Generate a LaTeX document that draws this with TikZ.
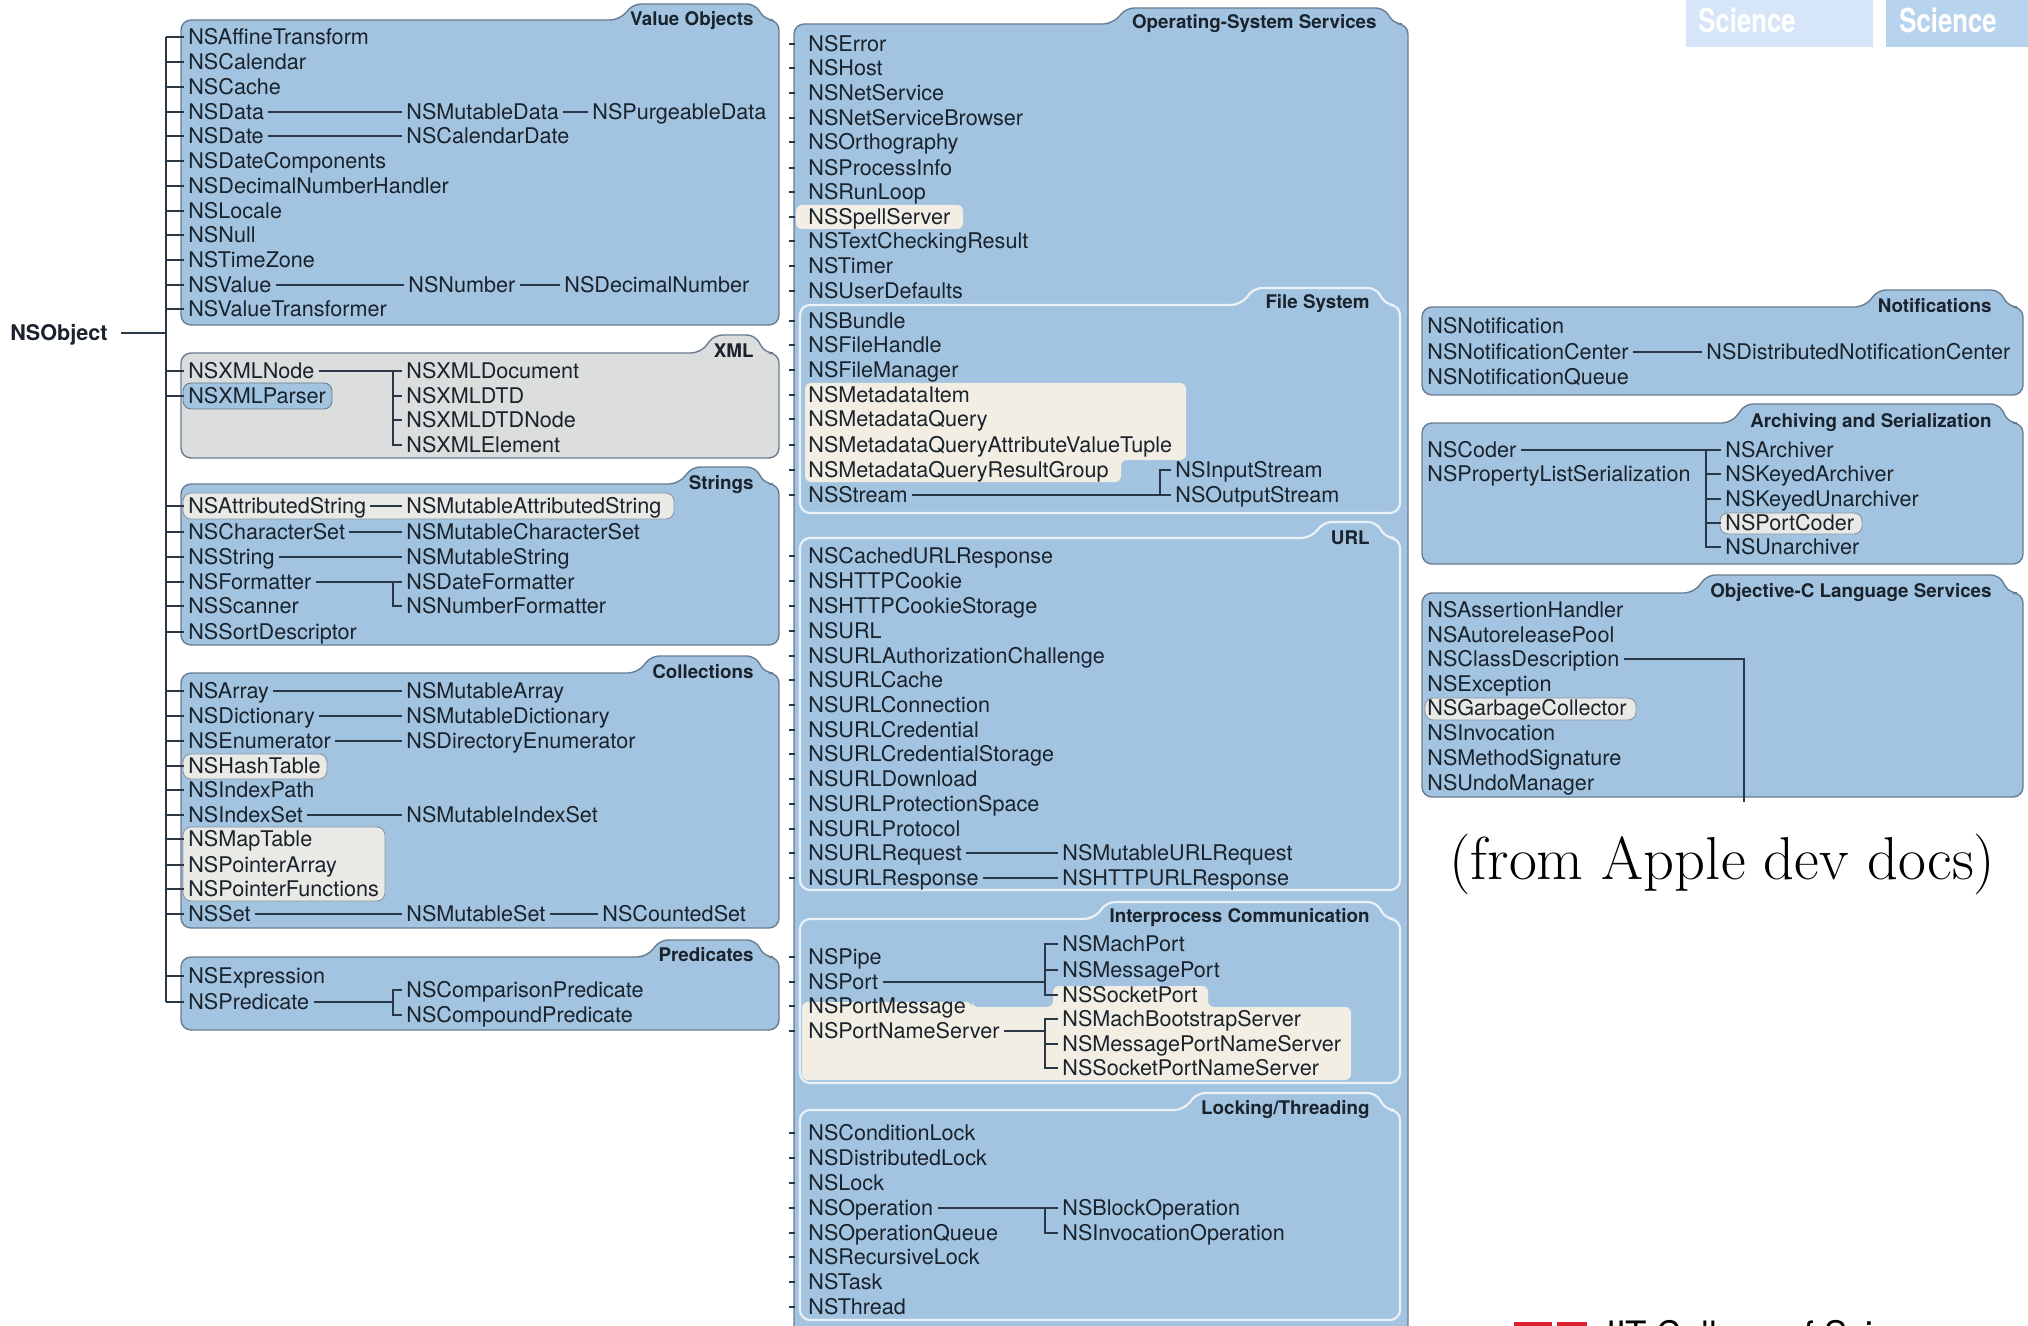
\documentclass[tikz,border=0pt]{standalone}
\usepackage{fontspec}
\usepackage{graphicx}
\newfontfamily\hv{TeX Gyre Heros}
\usetikzlibrary{calc}
\definecolor{boxblue}{RGB}{162,196,224}
\definecolor{edgec}{RGB}{105,124,144}
\definecolor{xmlgray}{RGB}{220,222,222}
\definecolor{cream}{RGB}{242,238,227}
\definecolor{hlgray}{RGB}{233,233,229}
\definecolor{txtc}{RGB}{26,34,44}
\definecolor{lnc}{RGB}{42,55,70}
\definecolor{subedge}{RGB}{234,241,247}
\definecolor{sciA}{RGB}{214,230,248}
\definecolor{sciB}{RGB}{184,211,238}
\definecolor{iitred}{RGB}{222,30,50}
\newcommand{\folder}[7]{\path[#1] ({(#2+#4)/2},#5) [rounded corners=5pt] -- (#2,#5) -- (#2,#3) -- (#6,#3) [rounded corners=4pt] -- ({#6+13},#7) -- ({#4-24},#7) -- ({#4-14},#3) [rounded corners=5pt] -- (#4,#3) -- (#4,#5) -- cycle;}
\tikzset{
  cls/.style={anchor=west, xshift=-2pt, inner xsep=2pt, inner ysep=0pt, text height=7.75pt, text depth=0pt, font=\hv\fontsize{10.8}{12}\selectfont, text=txtc},
  lbl/.style={anchor=east, inner sep=0pt, text height=6.8pt, text depth=0pt, font=\hv\bfseries\fontsize{9.4}{11}\selectfont, text=txtc},
  ln/.style={draw=lnc, line width=0.7pt},
  outerbox/.style={fill=boxblue, draw=edgec, line width=0.7pt},
  graybox/.style={fill=xmlgray, draw=edgec, line width=0.7pt},
  subbox/.style={fill=boxblue, draw=subedge, line width=1.1pt},
  hlg/.style={fill=hlgray, draw=edgec!80, line width=0.45pt, rounded corners=4pt},
  hlb/.style={fill=boxblue, draw=edgec, line width=0.45pt, rounded corners=4pt},
  hlc/.style={fill=cream, rounded corners=3pt},
  sci/.style={anchor=west, inner sep=0pt, text=white, text height=11.9pt, text depth=0pt, font=\hv\bfseries\fontsize{16.5}{18}\selectfont}
}
\begin{document}
\begin{tikzpicture}[x=0.5pt,y=-0.5pt]
\useasboundingbox (0,0) rectangle (2028,1326);
% header tabs
\fill[sciA] (1686,0) rectangle (1873,47);
\fill[sciB] (1886,0) rectangle (2028,47);
\node[sci] (sciA) at (1698,21) {\scalebox{0.78}[1]{Science}};
\node[sci] (sciB) at (1899,21) {\scalebox{0.78}[1]{Science}};
% ---------- boxes ----------
\folder{outerbox}{181}{20}{779}{325}{620}{4}
\folder{graybox}{181}{353}{779}{458}{701}{335}
\folder{outerbox}{181}{484}{779}{645}{679}{467}
\folder{outerbox}{181}{673}{779}{928}{638}{656}
\folder{outerbox}{181}{957}{779}{1030}{647}{940}
\folder{outerbox}{794}{24}{1408}{1345}{1113}{8}
\folder{subbox}{800}{305}{1400}{513}{1241}{288}
\folder{subbox}{800}{538}{1400}{890}{1311}{522}
\folder{subbox}{800}{919}{1400}{1083}{1094}{902}
\folder{subbox}{800}{1110}{1400}{1320}{1184}{1093}
\folder{outerbox}{1422}{307}{2023}{395}{1865}{290}
\folder{outerbox}{1422}{423}{2023}{564}{1732}{404}
\folder{outerbox}{1422}{593}{2023}{797}{1694}{575}
% labels
\node[lbl] (lvo) at (754,19) {Value Objects};
\node[lbl] (lxml) at (754,351) {XML};
\node[lbl] (lstr) at (754,483) {Strings};
\node[lbl] (lcol) at (754,672) {Collections};
\node[lbl] (lpre) at (754,955) {Predicates};
\node[lbl] (los) at (1377,22) {Operating-System Services};
\node[lbl] (lfs) at (1370,302) {File System};
\node[lbl] (lurl) at (1370,538) {URL};
\node[lbl] (lipc) at (1370,916) {Interprocess Communication};
\node[lbl] (llk) at (1370,1108) {Locking/Threading};
\node[lbl] (lnt) at (1992,306) {Notifications};
\node[lbl] (lar) at (1992,421) {Archiving and Serialization};
\node[lbl] (loc) at (1992,591) {Objective-C Language Services};
% ---------- highlights ----------
\path[hlb] (183,383) rectangle (332,409);
\path[hlg] (183,493) rectangle (674,519);
\path[hlg] (183,754) rectangle (327,779);
\path[hlg] (183,827) rectangle (385,901);
\path[hlc] (796,205) rectangle (963,229);
\path[hlc] (805,383) -- (1186,383) -- (1186,460) -- (1121,460) -- (1121,482) -- (805,482) -- cycle;
\path[hlc] (802,1002) -- (972,1002) -- (972,1007) -- (1053,1007) -- (1053,986) -- (1208,986) -- (1208,1007) -- (1351,1007) -- (1351,1080) -- (802,1080) -- cycle;
\path[hlg] (1720,513) rectangle (1862,534);
\path[hlg] (1425,698) rectangle (1636,720);
% ---------- trunk ----------
\coordinate (trunk) at (166,0);
\node[cls, font=\hv\bfseries\fontsize{10.8}{12}\selectfont] (nsobject) at (10,333) {NSObject};
\foreach \n/\y/\txt in {vo1/37/NSAffineTransform, vo2/62/NSCalendar, vo3/87/NSCache, vo4/112/NSData, vo5/136/NSDate, vo6/161/NSDateComponents, vo7/186/NSDecimalNumberHandler, vo8/211/NSLocale, vo9/235/NSNull, vo10/260/NSTimeZone, vo11/285/NSValue, vo12/309/NSValueTransformer, xm1/371/NSXMLNode, xm2/396/NSXMLParser, st1/506/NSAttributedString, st2/532/NSCharacterSet, st3/557/NSString, st4/582/NSFormatter, st5/606/NSScanner, st6/632/NSSortDescriptor, co1/691/NSArray, co2/716/NSDictionary, co3/741/NSEnumerator, co4/766/NSHashTable, co5/790/NSIndexPath, co6/815/NSIndexSet, co7/839/NSMapTable, co8/865/NSPointerArray, co9/889/NSPointerFunctions, co10/914/NSSet, pr1/976/NSExpression, pr2/1002/NSPredicate}{
  \node[cls] (\n) at (188,\y) {\txt};
  \draw[ln] (trunk |- \n.west) -- (\n.west);
}
\draw[ln] (trunk |- vo1.west) -- (trunk |- pr2.west);
\draw[ln, shorten <=4.5pt] (nsobject.east) -- (trunk |- nsobject.east);
% left children
\foreach \n/\x/\y/\txt in {vo4c/406/112/NSMutableData, vo4g/592/112/NSPurgeableData, vo5c/406/136/NSCalendarDate, vo11c/408/285/NSNumber, vo11g/564/285/NSDecimalNumber, xm1a/406/371/NSXMLDocument, xm1b/406/396/NSXMLDTD, xm1c/406/420/NSXMLDTDNode, xm1d/406/445/NSXMLElement, st1c/406/506/NSMutableAttributedString, st2c/406/532/NSMutableCharacterSet, st3c/406/557/NSMutableString, st4a/406/582/NSDateFormatter, st4b/406/606/NSNumberFormatter, co1c/406/691/NSMutableArray, co2c/406/716/NSMutableDictionary, co3c/406/741/NSDirectoryEnumerator, co6c/406/815/NSMutableIndexSet, co10c/406/914/NSMutableSet, co10g/602/914/NSCountedSet, pr2a/406/990/NSComparisonPredicate, pr2b/406/1015/NSCompoundPredicate}{
  \node[cls] (\n) at (\x,\y) {\txt};
}
\foreach \a/\b in {vo4/vo4c, vo4c/vo4g, vo5/vo5c, vo11/vo11c, vo11c/vo11g, xm1/xm1a, st1/st1c, st2/st2c, st3/st3c, st4/st4a, co1/co1c, co2/co2c, co3/co3c, co6/co6c, co10/co10c, co10c/co10g}{
  \draw[ln] (\a.east) -- (\b.west);
}
\coordinate (bxa) at (393,0);
\draw[ln] (bxa |- xm1a.west) |- (xm1d.west);
\draw[ln] (bxa |- xm1b.west) -- (xm1b.west);
\draw[ln] (bxa |- xm1c.west) -- (xm1c.west);
\draw[ln] (bxa |- st4a.west) |- (st4b.west);
\draw[ln] (pr2.east) -- (bxa |- pr2.east);
\draw[ln] (pr2a.west) -- (bxa |- pr2a.west) -- (bxa |- pr2b.west) -- (pr2b.west);
% ---------- middle column ----------
\foreach \n/\y/\txt in {os1/44/NSError, os2/68/NSHost, os3/93/NSNetService, os4/118/NSNetServiceBrowser, os5/142/NSOrthography, os6/168/NSProcessInfo, os7/192/NSRunLoop, os8/217/NSSpellServer, os9/241/NSTextCheckingResult, os10/266/NSTimer, os11/291/NSUserDefaults, fs1/321/NSBundle, fs2/345/NSFileHandle, fs3/370/NSFileManager, fs4/395/NSMetadataItem, fs5/419/NSMetadataQuery, fs6/445/NSMetadataQueryAttributeValueTuple, fs7/470/NSMetadataQueryResultGroup, fs8/495/NSStream, ur1/556/NSCachedURLResponse, ur2/581/NSHTTPCookie, ur3/606/NSHTTPCookieStorage, ur4/631/NSURL, ur5/656/NSURLAuthorizationChallenge, ur6/680/NSURLCache, ur7/705/NSURLConnection, ur8/730/NSURLCredential, ur9/754/NSURLCredentialStorage, ur10/779/NSURLDownload, ur11/804/NSURLProtectionSpace, ur12/829/NSURLProtocol, ur13/853/NSURLRequest, ur14/878/NSURLResponse, ip1/957/NSPipe, ip2/982/NSPort, ip3/1006/NSPortMessage, ip4/1031/NSPortNameServer, lk1/1133/NSConditionLock, lk2/1158/NSDistributedLock, lk3/1183/NSLock, lk4/1208/NSOperation, lk5/1233/NSOperationQueue, lk6/1257/NSRecursiveLock, lk7/1282/NSTask, lk8/1307/NSThread}{
  \node[cls] (\n) at (808,\y) {\txt};
  \draw[ln] ($(\n.west)+(-15,0)$) -- ++(6,0);
}
\foreach \n/\x/\y/\txt in {fs8a/1175/470/NSInputStream, fs8b/1175/495/NSOutputStream, ur13c/1062/853/NSMutableURLRequest, ur14c/1062/878/NSHTTPURLResponse, ip2a/1062/944/NSMachPort, ip2b/1062/970/NSMessagePort, ip2c/1062/995/NSSocketPort, ip4a/1062/1019/NSMachBootstrapServer, ip4b/1062/1044/NSMessagePortNameServer, ip4c/1062/1068/NSSocketPortNameServer, lk4a/1062/1208/NSBlockOperation, lk4b/1062/1233/NSInvocationOperation}{
  \node[cls] (\n) at (\x,\y) {\txt};
}
\foreach \a/\b in {fs8/fs8b, ur13/ur13c, ur14/ur14c, lk4/lk4a}{
  \draw[ln] (\a.east) -- (\b.west);
}
\coordinate (bfs) at (1160,0);
\coordinate (bip) at (1045,0);
\draw[ln] (bfs |- fs8b.west) |- (fs8a.west);
\draw[ln] (ip2.east) -- (bip |- ip2.east);
\draw[ln] (ip2a.west) -- (bip |- ip2a.west) -- (bip |- ip2c.west) -- (ip2c.west);
\draw[ln] (bip |- ip2b.west) -- (ip2b.west);
\draw[ln] (ip4.east) -- (bip |- ip4.east);
\draw[ln] (ip4a.west) -- (bip |- ip4a.west) -- (bip |- ip4c.west) -- (ip4c.west);
\draw[ln] (bip |- ip4b.west) -- (ip4b.west);
\draw[ln] (bip |- lk4a.west) |- (lk4b.west);
% ---------- right column ----------
\foreach \n/\y/\txt in {nt1/326/NSNotification, nt2/352/NSNotificationCenter, nt3/377/NSNotificationQueue, ar1/450/NSCoder, ar2/474/NSPropertyListSerialization, oc1/610/NSAssertionHandler, oc2/635/NSAutoreleasePool, oc3/659/NSClassDescription, oc4/684/NSException, oc5/708/NSGarbageCollector, oc6/733/NSInvocation, oc7/758/NSMethodSignature, oc8/783/NSUndoManager}{
  \node[cls] (\n) at (1427,\y) {\txt};
}
\foreach \n/\x/\y/\txt in {nt2c/1706/352/NSDistributedNotificationCenter, ar1a/1725/450/NSArchiver, ar1b/1725/474/NSKeyedArchiver, ar1c/1725/499/NSKeyedUnarchiver, ar1d/1725/523/NSPortCoder, ar1e/1725/547/NSUnarchiver}{
  \node[cls] (\n) at (\x,\y) {\txt};
}
\draw[ln] (nt2.east) -- (nt2c.west);
\draw[ln] (ar1.east) -- (ar1a.west);
\coordinate (bar) at (1706,0);
\draw[ln] (bar |- ar1a.west) |- (ar1e.west);
\draw[ln] (bar |- ar1b.west) -- (ar1b.west);
\draw[ln] (bar |- ar1c.west) -- (ar1c.west);
\draw[ln] (bar |- ar1d.west) -- (ar1d.west);
\coordinate (ocend) at (1744,802);
\draw[ln] (oc3.east) -| (ocend);
% ---------- captions ----------
\node[anchor=west, inner sep=0pt, font=\fontsize{30.3}{33}\selectfont] (src) at (1449,864) {(from Apple dev docs)};
\fill[iitred] (1514,1322) rectangle (1552,1330);
\fill[iitred] (1557,1322) rectangle (1587,1330);
\node[anchor=north west, inner sep=0pt, text height=12.6pt, font=\hv\fontsize{17.5}{20}\selectfont] (iit) at (1606,1321) {IIT College of Science};
\end{tikzpicture}
\end{document}
